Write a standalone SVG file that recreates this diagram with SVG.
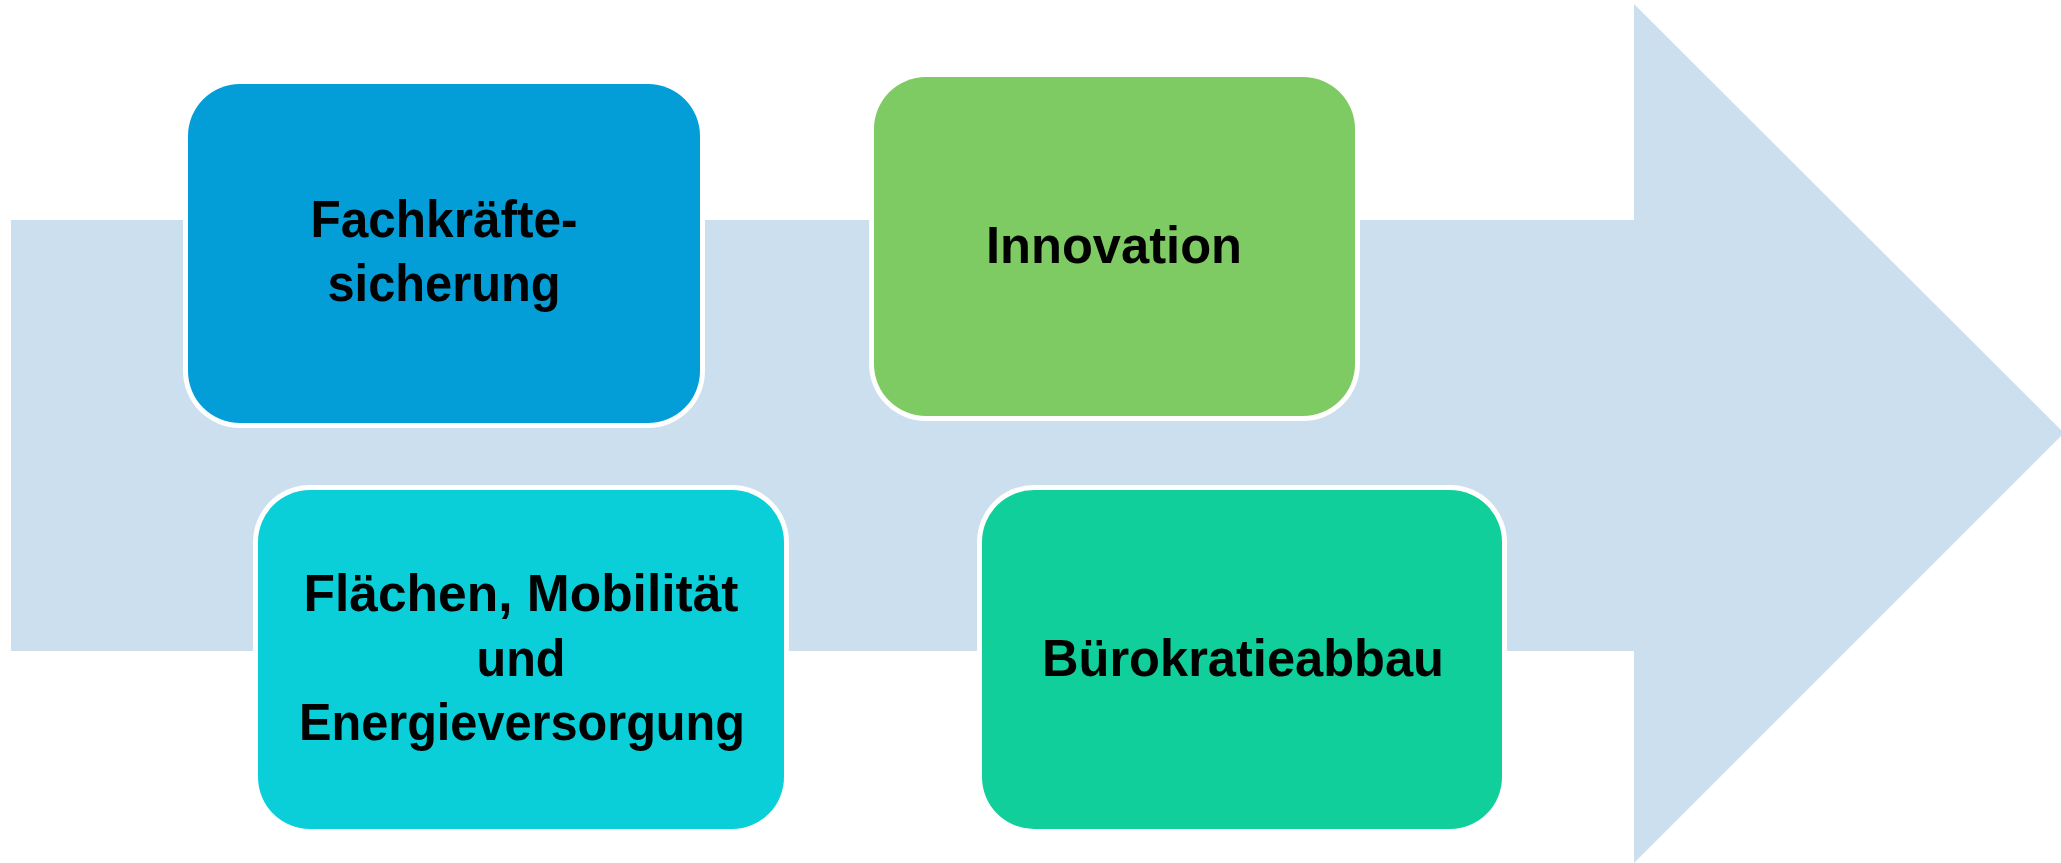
<svg xmlns="http://www.w3.org/2000/svg" width="2061" height="863" viewBox="0 0 2061 863">
<style>
.halo{fill:#FFFFFF}
.lbl{font-family:"Liberation Sans",Arial,sans-serif;font-weight:bold;font-size:52px;fill:#000000;text-anchor:middle}
</style>
<rect width="2061" height="863" fill="#FFFFFF"/>
<g id="arrow">
<polygon points="11,220 1634,220 1634,4 2064,433 1634,863 1634,651 11,651" fill="#CCDFEF"/>
</g>
<g id="connectors"/>
<g id="node-fachkraefte">
<rect class="halo" x="183" y="79" width="522" height="349" rx="57"/>
<rect x="188" y="84" width="512" height="339" rx="52" fill="#039DD8"/>
<text class="lbl" x="444" y="237" textLength="267" lengthAdjust="spacingAndGlyphs">Fachkräfte-</text>
<text class="lbl" x="444" y="301" textLength="233" lengthAdjust="spacingAndGlyphs">sicherung</text>
</g>
<g id="node-innovation">
<rect class="halo" x="869" y="72" width="491" height="349" rx="57"/>
<rect x="874" y="77" width="481" height="339" rx="52" fill="#7ECB63"/>
<text class="lbl" x="1114" y="263" textLength="256" lengthAdjust="spacingAndGlyphs">Innovation</text>
</g>
<g id="node-flaechen">
<rect class="halo" x="253" y="485" width="536" height="349" rx="57"/>
<rect x="258" y="490" width="526" height="339" rx="52" fill="#0BCFD8"/>
<text class="lbl" x="521" y="611" textLength="435" lengthAdjust="spacingAndGlyphs">Flächen, Mobilität</text>
<text class="lbl" x="521" y="676" textLength="89" lengthAdjust="spacingAndGlyphs">und</text>
<text class="lbl" x="522" y="740" textLength="446" lengthAdjust="spacingAndGlyphs">Energieversorgung</text>
</g>
<g id="node-buerokratie">
<rect class="halo" x="977" y="485" width="530" height="349" rx="57"/>
<rect x="982" y="490" width="520" height="339" rx="52" fill="#11CF9A"/>
<text class="lbl" x="1243" y="676" textLength="402" lengthAdjust="spacingAndGlyphs">Bürokratieabbau</text>
</g>
</svg>
